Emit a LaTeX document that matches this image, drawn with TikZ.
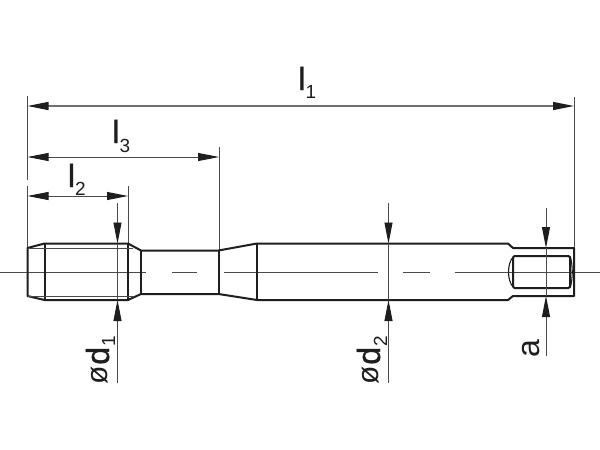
\documentclass[tikz,border=0pt]{standalone}
\usepackage{fontspec}
\setmainfont{Liberation Sans}
\usetikzlibrary{arrows.meta}
\definecolor{ink}{HTML}{1E1E1E}
\definecolor{thinink}{HTML}{4A4A4A}
\definecolor{widegray}{HTML}{707070}
\newcommand{\dimletter}[1]{{\fontsize{32}{32}\selectfont\addfontfeature{FakeBold=1.2}#1}}
\newcommand{\dimsub}[2]{\raisebox{-#1pt}{\fontsize{19}{19}\selectfont #2}}
\newcommand{\diasign}{\raisebox{2pt}{\fontsize{30}{30}\selectfont ø}\kern1pt}
\tikzset{
  x=1pt,y=-1pt,
  body/.style={draw=ink,line width=2pt,line join=round},
  fine/.style={draw=thinink,line width=0.8pt},
  center/.style={draw=thinink,line width=0.7pt},
  dimen/.style={draw=thinink,line width=0.9pt},
  both/.style={dimen,{Triangle[length=21pt,width=8pt,color=ink]}-{Triangle[length=21pt,width=8pt,color=ink]}},
  tipend/.style={dimen,-{Triangle[length=21pt,width=8pt,color=ink]}},
  txt/.style={inner sep=0pt,outer sep=0pt,text=ink,font=\fontsize{32}{32}\selectfont}
}
\begin{document}
\begin{tikzpicture}
\useasboundingbox[fill=white] (0,0) rectangle (600,450);
% named points
\coordinate (ext1a) at (27.5,96);\coordinate (ext1b) at (27.5,180);
\coordinate (ext2a) at (27.5,186);\coordinate (ext2b) at (27.5,248);
\coordinate (extRa) at (574,97);\coordinate (extRb) at (574,248);
\coordinate (ext3a) at (219,147);\coordinate (ext3b) at (219,250);
\coordinate (ext4a) at (128,186);\coordinate (ext4b) at (128,243);
% centre line
\draw[center] (0,272) -- (146,272);
\draw[center] (172,272) -- (197,272);
\draw[center] (224,272) -- (378,272);
\draw[center] (403,272) -- (430,272);
\draw[center] (455,272) -- (600,272);
% extension lines
\draw[fine] (ext1a) -- (ext1b);
\draw[fine] (ext2a) -- (ext2b);
\draw[fine] (extRa) -- (extRb);
\draw[fine] (ext3a) -- (ext3b);
\draw[fine] (ext4a) -- (ext4b);
% outline
\draw[body] (27.5,248) -- (44.5,243.5) -- (128,243.5) -- (141,250.5) -- (218.5,250.5) -- (257,243.5) -- (508,243.5) -- (513,248) -- (574,248) -- (574,296) -- (513,296) -- (508,300) -- (257,300) -- (218.5,294) -- (141,294) -- (128,300) -- (44.5,300) -- (27.5,296) -- cycle;
\draw[body] (44.5,243.5) -- (44.5,300);
\draw[body] (128,243.5) -- (128,300);
\draw[body] (141,250.5) -- (141,294);
\draw[body] (218.5,250.5) -- (218.5,294);
\draw[body] (257,243.5) -- (257,300);
\draw[fine] (27.5,248) -- (133,248);
\draw[fine] (27.5,296) -- (133,296);
% square end
\draw[body,rounded corners=1.5pt] (570,256) -- (513,256) -- (513,288) -- (570,288) -- cycle;
\draw[body,line width=1.1pt] (513,257) .. controls (507,264) and (507,280) .. (513,287);
\draw[body,line width=1.1pt] (570,256) .. controls (573,264) and (573,280) .. (570,288);
% length dimensions
\coordinate (l1a) at (27.5,106);\coordinate (l1b) at (574,106);
\coordinate (l3a) at (27.5,157);\coordinate (l3b) at (219,157);
\coordinate (l2a) at (27.5,196);\coordinate (l2b) at (128,196);
\draw[both,draw=widegray,line width=1.4pt] (l1a) -- (l1b);
\draw[both] (l3a) -- (l3b);
\draw[both] (l2a) -- (l2b);
% diameter dimensions
\coordinate (d1a) at (117.5,203);\coordinate (d1t) at (117.5,243.5);
\coordinate (d1b) at (117.5,383);\coordinate (d1u) at (117.5,300);
\coordinate (d2a) at (388.5,203);\coordinate (d2t) at (388.5,243.5);
\coordinate (d2b) at (388.5,383);\coordinate (d2u) at (388.5,300);
\coordinate (aa) at (546,208);\coordinate (at) at (546,248);
\coordinate (ab) at (546,356);\coordinate (au) at (546,296);
\draw[tipend] (d1a) -- (d1t);
\draw[tipend] (d1b) -- (d1u);
\draw[tipend] (d2a) -- (d2t);
\draw[tipend] (d2b) -- (d2u);
\draw[tipend] (aa) -- (at);
\draw[tipend] (ab) -- (au);
\draw[fine] (at) -- (au);
\draw[fine] (d1t) -- (d1u);
\draw[fine] (d2t) -- (d2u);
% labels
\node[txt,anchor=base west] (l1) at (298.5,90) {\dimletter{l}\dimsub{8}{1}};
\node[txt,anchor=base west] (l3) at (112.5,143) {\dimletter{l}\dimsub{9}{3}};
\node[txt,anchor=base west] (l2) at (68,187) {\dimletter{l}\dimsub{8}{2}};
\node[txt,anchor=base west,rotate=90] (dd1) at (109,384) {\diasign\dimletter{d}\dimsub{6}{1}};
\node[txt,anchor=base west,rotate=90] (dd2) at (380,384) {\diasign\dimletter{d}\dimsub{7}{2}};
\node[txt,anchor=base west,rotate=90] (la) at (539,357) {a};
\end{tikzpicture}
\end{document}
